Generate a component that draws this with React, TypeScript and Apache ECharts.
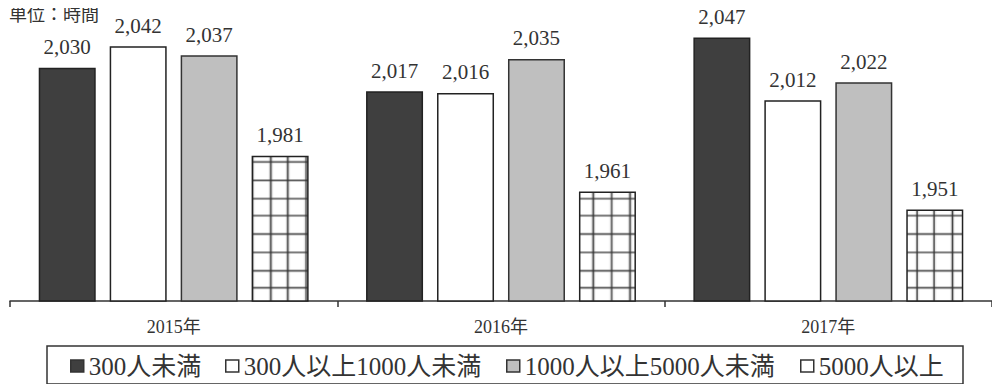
import React, { useEffect, useRef } from "react";
import * as echarts from "echarts";

const categories = ["2015年", "2016年", "2017年"];
const seriesNames = ["300人未満", "300人以上1000人未満", "1000人以上5000人未満", "5000人以上"];
const valuesUnder300 = [2030, 2017, 2047];
const values300to1000 = [2042, 2016, 2012];
const values1000to5000 = [2037, 2035, 2022];
const values5000plus = [1981, 1961, 1951];
const unitLabel = "単位：時間";

const SERIF = "'Liberation Serif', 'DejaVu Serif', 'Noto Sans CJK JP', serif";

function makeGridPattern() {
  const size = 127;
  const c = document.createElement("canvas");
  c.width = size;
  c.height = size;
  const ctx = c.getContext("2d")!;
  ctx.fillStyle = "#ffffff";
  ctx.fillRect(0, 0, size, size);
  ctx.strokeStyle = "#333333";
  ctx.lineWidth = 1.2;
  for (let i = 0; i < 10; i++) {
    const p = Math.round(i * 12.7) + 0.5;
    ctx.beginPath();
    ctx.moveTo(p, 0);
    ctx.lineTo(p, size);
    ctx.stroke();
    ctx.beginPath();
    ctx.moveTo(0, p);
    ctx.lineTo(size, p);
    ctx.stroke();
  }
  return c;
}

export default function App() {
  const ref = useRef<HTMLDivElement>(null);
  useEffect(() => {
    if (!ref.current) return;
    const chart = echarts.init(ref.current, undefined, { renderer: "svg" });
    const pattern = makeGridPattern();
    const fills = [
      { color: "#3f3f3f", borderColor: "#222" },
      { color: "#ffffff", borderColor: "#222" },
      { color: "#bfbfbf", borderColor: "#333" },
      {
        color: { image: pattern, repeat: "repeat", scaleX: 1.4142, scaleY: 1.4142 } as any,
        borderColor: "#222",
      },
    ];
    const data = [valuesUnder300, values300to1000, values1000to5000, values5000plus];
    const legendLefts = [70, 225, 506, 800];
    const legendIconColors = ["#3f3f3f", "#ffffff", "#bfbfbf", "#ffffff"];

    chart.setOption({
      animation: false,
      title: {
        text: unitLabel,
        left: 9,
        top: 6,
        padding: 0,
        textStyle: {
          fontSize: 18,
          fontWeight: "normal",
          color: "#333",
          fontFamily: SERIF,
        },
      },
      grid: { left: 10, right: 8, top: 32, bottom: 91 },
      legend: seriesNames.map((n, i) => ({
        data: [{ name: n, icon: "rect", itemStyle: { color: legendIconColors[i], borderColor: "#333", borderWidth: 1.5 } }],
        left: legendLefts[i],
        top: 352,
        padding: 0,
        itemWidth: 13,
        itemHeight: 12,
        selectedMode: false,
        textStyle: { fontSize: 25, color: "#333", fontFamily: SERIF, lineHeight: 28 },
      })),
      graphic: [
        {
          type: "rect",
          shape: { x: 47, y: 346, width: 916, height: 38 },
          style: { fill: "none", stroke: "#333", lineWidth: 1.5 },
          silent: true,
        },
      ],
      xAxis: {
        type: "category",
        data: categories,
        axisLine: { show: true, lineStyle: { color: "#333", width: 1.5 } },
        axisTick: { show: true, length: 6, lineStyle: { color: "#333", width: 1.5 } },
        axisLabel: { fontSize: 18, color: "#333", fontFamily: SERIF, margin: 17 },
      },
      yAxis: {
        type: "value",
        min: 1900,
        max: 2050,
        show: false,
        splitLine: { show: false },
      },
      series: seriesNames.map((n, i) => ({
        name: n,
        type: "bar",
        data: data[i],
        barWidth: 57,
        barGap: "24.5%",
        itemStyle: { ...fills[i], borderWidth: 1.5 },
        label: {
          show: true,
          position: "top",
          distance: 10,
          fontSize: 21,
          color: "#333",
          fontFamily: SERIF,
          formatter: (p: any) => p.value.toLocaleString("en-US"),
        },
      })),
    });
    return () => chart.dispose();
  }, []);
  return <div ref={ref} style={{ width: 1000, height: 392, margin: -8 }} />;
}
